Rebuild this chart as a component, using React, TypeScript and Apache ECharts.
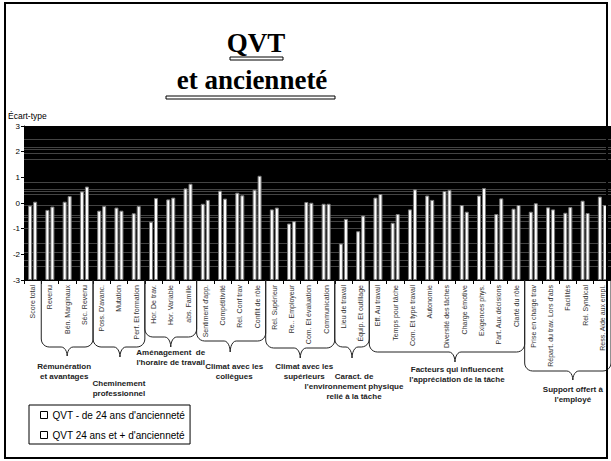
import React, { useEffect, useRef } from "react";
import * as echarts from "echarts";

const categories = [
  "Score total", "Revenu", "Bén. Marginaux", "Séc. Revenu",
  "Poss. D'avanc.", "Mutation", "Perf. Et formation",
  "Hor. De trav.", "Hor. Variable", "abs. Famille",
  "Sentiment d'app.", "Compétitivité", "Rel. Conf trav", "Conflit de rôle",
  "Rel. Supérieur", "Re.. Employeur", "Com. Et évaluation", "Communication",
  "Lieu de travail", "Équip. Et outillage",
  "Eff. Au travail", "Temps pour tâche", "Com. Et type travail", "Autonomie",
  "Diversité des tâches", "Charge émotive", "Exigences phys.", "Part. Aux décisions", "Clarté du rôle",
  "Prise en charge trav", "Répart. du trav. Lors d'abs", "Facilités", "Rel. Syndical", "Ress. Aide aux empl.",
];

const seriesNames = ["QVT - de 24 ans d'ancienneté", "QVT 24 ans et + d'ancienneté"];

const valuesUnder24 = [
  -0.10, -0.27, 0.05, 0.45,
  -0.30, -0.18, -0.40,
  -0.73, 0.14, 0.57,
  -0.03, 0.48, 0.40, 0.52,
  -0.25, -0.80, 0.04, -0.03,
  -1.58, -1.10,
  0.21, -0.77, -0.25, 0.29, 0.47, -0.08, 0.29, -0.43, -0.22,
  -0.34, -0.17, -0.38, 0.09, 0.25,
];

const values24Plus = [
  0.05, -0.14, 0.27, 0.64,
  -0.12, -0.30, -0.12,
  0.19, 0.21, 0.75,
  0.12, 0.17, 0.30, 1.06,
  -0.18, -0.71, 0.01, -0.03,
  -0.62, -0.49,
  0.35, -0.43, 0.53, 0.12, 0.51, -0.34, 0.58, 0.18, -0.08,
  -0.01, -0.25, -0.16, -0.39, -0.08,
];

const Y_MIN = -3;
const Y_MAX = 3;
const Y_INTERVAL = 1;

const groupLabels = [
  ["Rémunération", "et avantages"],
  ["Cheminement", "professionnel"],
  ["Aménagement  de", "l'horaire de travail"],
  ["Climat avec les", "collègues"],
  ["Climat avec les", "supérieurs"],
  ["Caract. de", "l'environnement physique", "relié à la tâche"],
  ["Facteurs qui influencent", "l'appréciation de la tâche"],
  ["Support offert à", "l'employé"],
];
const groupStart = [1, 4, 7, 10, 14, 18, 20, 29];
const groupEnd = [3, 6, 9, 13, 17, 19, 28, 33];

// layout of braces (pixels): bottom line y, tip depth, tip x shift, label first-line y, label x shift
const braceBottom = [347, 347, 337, 341, 348, 347, 352, 371];
const braceTip = [9, 10, 10, 11, 10, 11, 10, 9];
const braceTipDx = [0, 1, 0, -1, 0, 0, 8, 5];
const labelY = [366, 383, 352, 366, 366, 376, 369, 389];
const labelDx = [-3, 0, 0, 3, 4, 2, 10, 5];

// faint texture lines in the black plot background
const backgroundLines = [2.48, 2.19, 2.09, 1.94, 1.70, 0.81, 0.53, 0.44, 0.35, -0.08, -0.47, -0.56, -0.73, -1.0, -1.55, -1.90, -2.22, -2.48];

const SANS = "'Liberation Sans', Arial, sans-serif";
const SERIF = "'Liberation Serif', 'Times New Roman', serif";

function bracePoints(L: number, R: number, top: number, bottom: number, tip: number, tipDx: number) {
  const r = 8;
  const r2 = 6;
  const C = (L + R) / 2 + tipDx;
  const pts: number[][] = [];
  const N = 6;
  pts.push([L, top]);
  for (let k = 0; k <= N; k++) {
    const t = (k / N) * Math.PI / 2;
    pts.push([L + r - r * Math.cos(t), bottom - r + r * Math.sin(t)]);
  }
  for (let k = 0; k <= N; k++) {
    const t = (k / N) * Math.PI / 2;
    pts.push([C - r2 + r2 * Math.sin(t), bottom + tip * (1 - Math.cos(t))]);
  }
  for (let k = N; k >= 0; k--) {
    const t = (k / N) * Math.PI / 2;
    pts.push([C + r2 - r2 * Math.sin(t), bottom + tip * (1 - Math.cos(t))]);
  }
  for (let k = N; k >= 0; k--) {
    const t = (k / N) * Math.PI / 2;
    pts.push([R - r + r * Math.cos(t), bottom - r + r * Math.sin(t)]);
  }
  pts.push([R, top]);
  return pts;
}

export default function App() {
  const ref = useRef<HTMLDivElement>(null);

  useEffect(() => {
    const el = ref.current;
    if (!el) return;
    const chart = echarts.init(el, null, { renderer: "svg" });

    const barStyle = { color: "#ffffff", borderColor: "#7a7a7a", borderWidth: 1 };

    chart.setOption({
      animation: false,
      backgroundColor: "#ffffff",
      grid: {
        left: 24, right: 0, top: 126, bottom: 181,
        show: true, backgroundColor: "#000000", borderWidth: 0,
      },
      legend: {
        data: seriesNames,
        orient: "vertical",
        left: 29,
        top: 405,
        padding: [5, 5, 4, 11],
        itemGap: 10,
        itemWidth: 7,
        itemHeight: 7,
        icon: "rect",
        borderColor: "#000",
        borderWidth: 1,
        textStyle: { fontSize: 10, color: "#000", fontFamily: SANS },
        itemStyle: { color: "#fff", borderColor: "#000", borderWidth: 1 },
      },
      xAxis: {
        type: "category",
        data: categories,
        axisLine: { onZero: false, lineStyle: { color: "#000", width: 1 } },
        axisTick: { show: true, length: 4, lineStyle: { color: "#000" } },
        axisLabel: {
          interval: 0, rotate: 90, fontSize: 7, color: "#333",
          fontFamily: SANS, margin: 5,
        },
        splitLine: { show: false },
      },
      yAxis: {
        type: "value",
        min: Y_MIN, max: Y_MAX, interval: Y_INTERVAL,
        startValue: Y_MIN,
        axisLine: { show: true, lineStyle: { color: "#000", width: 1 } },
        axisTick: { show: true, length: 3, lineStyle: { color: "#000" } },
        axisLabel: { fontSize: 8, color: "#000", fontFamily: SANS, margin: 4 },
        splitLine: { show: false },
      },
      series: [
        {
          name: seriesNames[0],
          type: "bar",
          data: valuesUnder24,
          barWidth: 4,
          barGap: "25%",
          itemStyle: barStyle,
          z: 3,
          markLine: {
            silent: true,
            symbol: "none",
            z: 1,
            label: { show: false },
            lineStyle: { color: "#444", width: 1, type: "solid" },
            data: backgroundLines.map((v) => ({ yAxis: v })),
          },
        },
        {
          name: seriesNames[1],
          type: "bar",
          data: values24Plus,
          barWidth: 4,
          barGap: "25%",
          itemStyle: barStyle,
          z: 3,
        },
      ],
    });

    const cx = (i: number) => chart.convertToPixel({ xAxisIndex: 0 }, i) as number;
    const band = cx(1) - cx(0);
    const axisY = chart.convertToPixel({ yAxisIndex: 0 }, Y_MIN) as number;

    const graphics: any[] = [];
    graphics.push({
      type: "text", x: 256, y: 43, z: 10,
      style: { text: "QVT", font: `bold 27px ${SERIF}`, fill: "#000", align: "center", verticalAlign: "middle" },
    });
    graphics.push({
      type: "rect", z: 10,
      shape: { x: 230, y: 57, width: 53, height: 3 },
      style: { fill: "#fff", stroke: "#000", lineWidth: 1 },
    });
    graphics.push({
      type: "text", x: 252, y: 80, z: 10,
      style: { text: "et ancienneté", font: `bold 27px ${SERIF}`, fill: "#000", align: "center", verticalAlign: "middle" },
    });
    graphics.push({
      type: "rect", z: 10,
      shape: { x: 166, y: 96, width: 169, height: 3 },
      style: { fill: "#fff", stroke: "#000", lineWidth: 1 },
    });
    graphics.push({
      type: "text", x: 8, y: 116, z: 10,
      style: { text: "Écart-type", font: `8.5px ${SANS}`, fill: "#000", align: "left", verticalAlign: "middle" },
    });

    groupLabels.forEach((lines, g) => {
      const L = cx(groupStart[g]) - band / 2;
      const R = cx(groupEnd[g]) + band / 2;
      const pts = bracePoints(L, R, axisY, braceBottom[g], braceTip[g], braceTipDx[g]);
      graphics.push({
        type: "polyline", z: 10, silent: true,
        shape: { points: pts },
        style: { stroke: "#222", fill: null, lineWidth: 1 },
      });
      graphics.push({
        type: "text", z: 10,
        x: (L + R) / 2 + labelDx[g], y: labelY[g] - 5,
        style: {
          text: lines.join("\n"), font: `bold 8px ${SANS}`, fill: "#222",
          align: "center", verticalAlign: "top", lineHeight: 10,
        },
      });
    });

    graphics.push({
      type: "rect", z: 20, silent: true,
      shape: { x: 5, y: 3, width: 602, height: 455 },
      style: { fill: null, stroke: "#000", lineWidth: 2 },
    });

    chart.setOption({ graphic: graphics });

    return () => chart.dispose();
  }, []);

  return (
    <div
      ref={ref}
      style={{ position: "absolute", left: 0, top: 0, width: 611, height: 461 }}
    />
  );
}
